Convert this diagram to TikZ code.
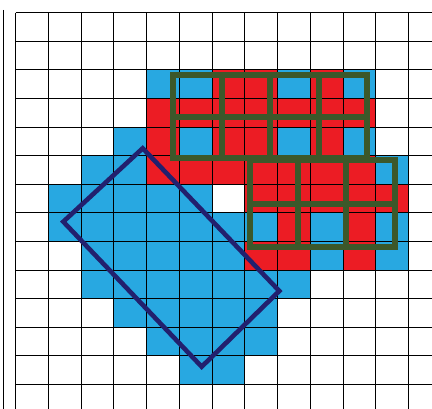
\documentclass[tikz,border=0pt]{standalone}
\definecolor{cblue}{RGB}{40,168,225}
\definecolor{cred}{RGB}{236,28,36}
\definecolor{cgreen}{RGB}{60,88,42}
\definecolor{cnavy}{RGB}{34,32,110}
\begin{document}
\begin{tikzpicture}[x=1pt,y=-1pt,
  bluecell/.style={fill=cblue},
  redcell/.style={fill=cred},
  gridline/.style={black,line width=0.9pt},
  greenbox/.style={draw=cgreen,line width=6pt,line cap=rect},
  bbox/.style={draw=cnavy,line width=4.6pt,line join=miter}]
\useasboundingbox (0,0) rectangle (432,409);
\clip (0,0) rectangle (432,409);
\fill[white] (0,0) rectangle (432,409);
\def\W{32.75}\def\H{28.6}\def\X{15.5}\def\Y{12.7}
% blue cells (column/row)
\foreach \c/\r in {4/2,5/2,8/2,10/2,
  3/4,5/4,8/4,10/4,
  2/5,3/5,11/5,
  1/6,2/6,3/6,4/6,5/6,
  1/7,2/7,3/7,4/7,5/7,6/7,7/7,9/7,11/7,
  2/8,3/8,4/8,5/8,6/8,9/8,11/8,
  2/9,3/9,4/9,5/9,6/9,7/9,8/9,
  3/10,4/10,5/10,6/10,7/10,
  4/11,5/11,6/11,7/11,
  5/12,6/12}
  \path[bluecell] ({\X+\W*\c},{\Y+\H*\r}) rectangle ++(\W,\H);
% red cells
\foreach \c/\r in {6/2,7/2,9/2,
  4/3,5/3,6/3,7/3,8/3,9/3,10/3,
  4/4,6/4,7/4,9/4,
  4/5,5/5,6/5,7/5,8/5,9/5,10/5,
  7/6,8/6,9/6,10/6,11/6,
  8/7,10/7,
  7/8,8/8,10/8}
  \path[redcell] ({\X+\W*\c},{\Y+\H*\r}) rectangle ++(\W,\H);
% grid
\foreach \i in {0,...,12}
  \draw[gridline] ({\X+\W*\i},\Y) -- ({\X+\W*\i},409);
\foreach \j in {0,...,14}
  \draw[gridline] (\X,{\Y+\H*\j}) -- (432,{\Y+\H*\j});
\draw[gridline] (3,10) -- (3,409);
% green windows, top group (4 x 2)
\foreach \x in {173,221.5,270,318.5,367}
  \draw[greenbox] (\x,74.7) -- (\x,158);
\foreach \y in {74.7,117.5,158}
  \draw[greenbox] (173,\y) -- (367,\y);
% green windows, bottom group (3 x 2)
\foreach \x in {249.7,298,346.3,394.5}
  \draw[greenbox] (\x,160.3) -- (\x,247.5);
\foreach \y in {160.3,204.5,247.5}
  \draw[greenbox] (249.7,\y) -- (394.5,\y);
% rotated box
\draw[bbox] (142.7,148.3) -- (279.3,291) -- (201.7,366.7) -- (63.3,221.7) -- cycle;
\end{tikzpicture}
\end{document}
